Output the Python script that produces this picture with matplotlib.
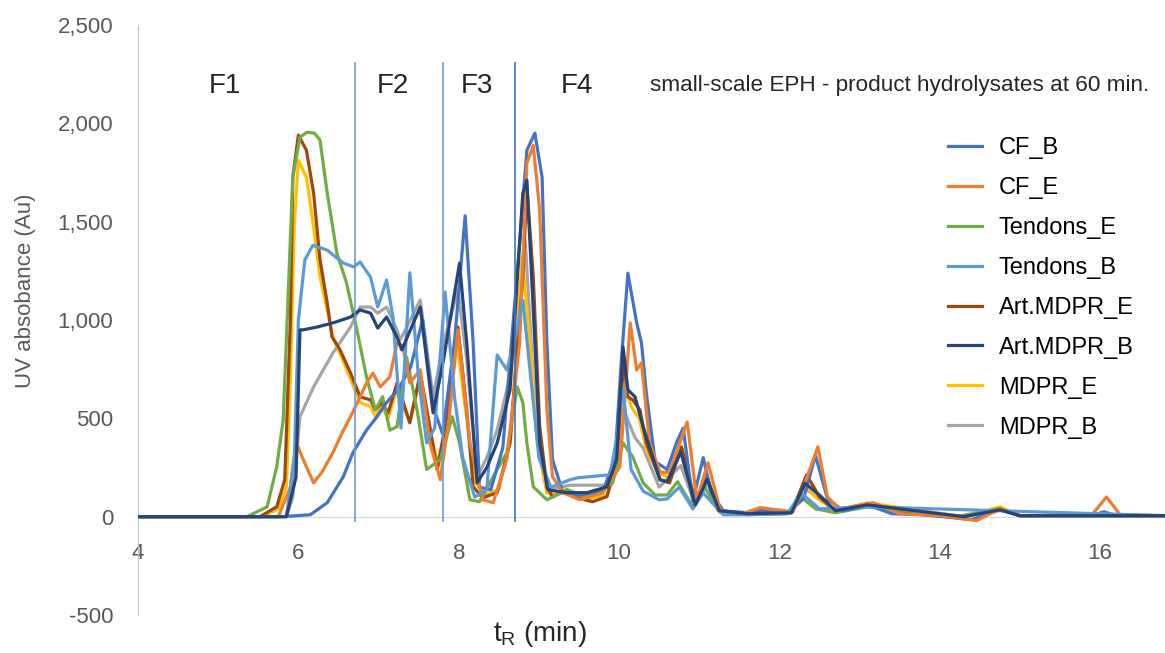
import numpy as np
import matplotlib
matplotlib.use("Agg")
import matplotlib.pyplot as plt
from matplotlib.ticker import FuncFormatter

plt.rcParams['font.family'] = ['Liberation Sans', 'DejaVu Sans']
plt.rcParams['mathtext.fontset'] = 'custom'
plt.rcParams['mathtext.rm'] = 'Liberation Sans'
plt.rcParams['mathtext.it'] = 'Liberation Sans'

# retention time (min) / UV absorbance (Au)
cf_b_t = [4, 5.8, 6.15, 6.36, 6.56, 6.68, 6.85, 6.98, 7.1, 7.25, 7.4, 7.55, 7.68, 7.8, 7.95, 8.08, 8.18, 8.26,
          8.4, 8.55, 8.76, 8.85, 8.95, 9.04, 9.1, 9.17, 9.3, 9.5, 9.8, 9.95, 10.03, 10.11, 10.22, 10.28, 10.34,
          10.45, 10.6, 10.72, 10.8, 10.92, 11.05, 11.15, 11.3, 11.6, 11.8, 12.1, 12.3, 12.45, 12.6, 12.8, 13.1,
          13.4, 13.8, 14.4, 14.75, 15.0, 15.9, 16.05, 16.2, 16.8]
cf_b_y = [0, 0, 10, 71, 203, 325, 440, 508, 580, 650, 760, 1000, 560, 420, 900, 1530, 883, 150,
          137, 350, 1390, 1863, 1950, 1726, 883, 290, 122, 110, 130, 300, 800, 1238, 985, 883, 630,
          280, 240, 380, 450, 80, 300, 120, 30, 20, 35, 20, 90, 310, 90, 30, 60,
          15, 10, -15, 35, 5, 5, 25, 5, 5]

cf_e_t = [4, 5.75, 5.9, 5.97, 6.05, 6.19, 6.3, 6.43, 6.55, 6.65, 6.77, 6.85, 6.93, 7.02, 7.14, 7.23, 7.3, 7.39,
          7.52, 7.64, 7.77, 7.88, 7.99, 8.14, 8.3, 8.43, 8.6, 8.76, 8.85, 8.93, 9.01, 9.1, 9.17, 9.3, 9.51, 9.8,
          10.01, 10.14, 10.22, 10.28, 10.38, 10.51, 10.63, 10.72, 10.85, 10.97, 11.11, 11.26, 11.5, 11.76,
          12.17, 12.3, 12.48, 12.6, 12.75, 13.17, 13.5, 14.0, 14.46, 14.75, 15.0, 15.9, 16.08, 16.25, 16.8]
cf_e_y = [0, 0, 150, 380, 300, 172, 230, 325, 430, 508, 610, 680, 730, 660, 710, 883, 870, 680,
          746, 375, 188, 500, 950, 375, 86, 71, 290, 883, 1797, 1888, 1558, 543, 203, 122, 86, 122,
          254, 985, 746, 782, 375, 228, 223, 330, 482, 86, 274, 35, 10, 46,
          25, 150, 355, 100, 40, 71, 15, 5, -20, 40, 5, 10, 100, 10, 5]

tend_e_t = [4, 5.36, 5.61, 5.73, 5.81, 5.86, 5.93, 6.02, 6.11, 6.2, 6.27, 6.36, 6.48, 6.6, 6.73, 6.85, 6.96,
            7.05, 7.14, 7.23, 7.35, 7.48, 7.6, 7.77, 7.92, 8.01, 8.14, 8.26, 8.48, 8.6, 8.73, 8.8, 8.85, 8.93,
            9.1, 9.35, 9.6, 9.92, 10.05, 10.17, 10.3, 10.45, 10.6, 10.73, 10.92, 11.07, 11.26, 11.6, 12.1,
            12.27, 12.45, 12.7, 13.1, 13.6, 14.2, 14.75, 15.0, 16.8]
tend_e_y = [0, 0, 50, 254, 490, 1000, 1725, 1930, 1955, 1950, 1915, 1645, 1340, 1190, 950, 710, 543,
            610, 440, 457, 812, 543, 240, 290, 508, 375, 86, 76, 240, 325, 660, 580, 375, 152,
            86, 137, 100, 172, 375, 305, 172, 110, 110, 178, 50, 147, 25, 10, 15,
            100, 40, 20, 50, 30, 0, 40, 5, 5]

tend_b_t = [4, 5.85, 5.95, 6.0, 6.08, 6.18, 6.36, 6.56, 6.69, 6.77, 6.9, 6.99, 7.1, 7.18, 7.28, 7.39, 7.5,
            7.6, 7.7, 7.83, 7.95, 8.05, 8.2, 8.35, 8.48, 8.6, 8.7, 8.8, 8.9, 9.0, 9.15, 9.39, 9.49, 9.89,
            9.97, 10.05, 10.15, 10.3, 10.5, 10.6, 10.75, 10.92, 11.05, 11.3, 11.6, 12.1, 12.27, 12.5, 13.1,
            14.75, 16.8]
tend_b_y = [0, 0, 300, 1000, 1305, 1380, 1355, 1290, 1270, 1295, 1218, 1066, 1203, 1015, 450, 1240, 700,
            375, 450, 1142, 600, 300, 100, 137, 822, 746, 900, 1100, 700, 300, 150, 188, 198, 213,
            400, 650, 240, 130, 86, 90, 150, 40, 120, 10, 10, 15, 120, 40, 50,
            30, 5]

art_e_t = [4, 5.52, 5.73, 5.83, 5.9, 5.93, 6.0, 6.1, 6.19, 6.27, 6.36, 6.42, 6.52, 6.65, 6.77, 6.9, 6.96,
           7.04, 7.12, 7.23, 7.39, 7.52, 7.64, 7.73, 7.85, 7.99, 8.1, 8.18, 8.3, 8.48, 8.64, 8.8, 8.85, 8.93,
           9.01, 9.1, 9.17, 9.35, 9.47, 9.67, 9.85, 9.97, 10.05, 10.11, 10.17, 10.26, 10.34, 10.51, 10.63,
           10.78, 10.95, 11.1, 11.23, 11.5, 11.8, 12.15, 12.34, 12.5, 12.7, 13.1, 13.6, 14.3, 14.75, 15.0, 16.8]
art_e_y = [0, 0, 50, 188, 1000, 1726, 1940, 1863, 1645, 1305, 1086, 914, 848, 731, 609, 594, 543,
           579, 528, 680, 477, 731, 457, 239, 500, 964, 543, 152, 96, 122, 375, 1218, 1675, 1218,
           457, 152, 100, 137, 96, 76, 102, 290, 761, 609, 594, 543, 375, 188, 172,
           355, 76, 203, 35, 15, 30, 20, 213, 100, 30, 65, 15, 0, 40, 5, 5]

art_b_t = [4, 5.85, 5.97, 6.02, 6.06, 6.23, 6.43, 6.65, 6.77, 6.9, 6.99, 7.1, 7.23, 7.29, 7.52, 7.68, 7.81,
           8.01, 8.1, 8.23, 8.35, 8.48, 8.64, 8.8, 8.85, 8.93, 9.01, 9.11, 9.35, 9.6, 9.85, 9.97, 10.05,
           10.11, 10.2, 10.3, 10.51, 10.6, 10.77, 10.95, 11.1, 11.25, 11.6, 12.15, 12.32, 12.5, 12.7, 13.1,
           14.3, 14.75, 15.0, 16.8]
art_b_y = [0, 0, 200, 950, 950, 964, 985, 1015, 1051, 1035, 959, 1015, 914, 848, 1066, 528, 797,
           1289, 883, 172, 250, 375, 645, 1645, 1711, 1051, 375, 137, 122, 122, 152, 290, 863,
           645, 609, 457, 188, 178, 330, 60, 190, 30, 15, 20, 170, 110, 30, 60,
           0, 35, 5, 5]

mdpr_e_t = [4, 5.55, 5.75, 5.85, 5.9, 5.95, 6.0, 6.1, 6.19, 6.27, 6.36, 6.43, 6.55, 6.65, 6.77, 6.9, 6.96,
            7.04, 7.12, 7.23, 7.39, 7.52, 7.64, 7.75, 7.85, 7.97, 8.1, 8.2, 8.32, 8.5, 8.65, 8.79, 8.89, 8.98,
            9.1, 9.35, 9.6, 9.85, 9.97, 10.05, 10.15, 10.25, 10.35, 10.5, 10.63, 10.77, 10.95, 11.1, 11.25,
            11.6, 12.15, 12.3, 12.45, 12.7, 13.1, 14.3, 14.75, 15.0, 16.8]
mdpr_e_y = [0, 0, 40, 150, 700, 1500, 1812, 1726, 1472, 1218, 1051, 914, 800, 700, 580, 560, 508,
            560, 500, 650, 480, 700, 430, 260, 450, 900, 500, 180, 110, 140, 400, 1320, 883, 375,
            120, 120, 90, 110, 250, 700, 560, 500, 330, 220, 200, 330, 70, 190, 30,
            15, 20, 170, 100, 30, 70, 0, 50, 5, 5]

mdpr_b_t = [4, 5.85, 5.93, 6.02, 6.19, 6.43, 6.65, 6.77, 6.9, 6.99, 7.1, 7.23, 7.27, 7.52, 7.68, 7.81, 7.99,
            8.1, 8.23, 8.35, 8.48, 8.64, 8.83, 8.93, 9.01, 9.1, 9.4, 9.9, 9.98, 10.05, 10.2, 10.3, 10.5,
            10.77, 10.95, 11.1, 11.25, 11.6, 12.15, 12.3, 12.5, 12.7, 13.1, 14.3, 14.75, 15.0, 16.8]
mdpr_b_y = [0, 0, 100, 508, 660, 832, 964, 1066, 1066, 1035, 1066, 950, 898, 1102, 609, 883, 1152,
            797, 203, 300, 442, 711, 1400, 700, 300, 140, 160, 160, 300, 550, 400, 350, 150,
            260, 60, 170, 25, 15, 20, 150, 90, 30, 60, 0, 35, 5, 5]

labels = ['CF_B', 'CF_E', 'Tendons_E', 'Tendons_B', 'Art.MDPR_E', 'Art.MDPR_B', 'MDPR_E', 'MDPR_B']
colors = ['#4472C4', '#ED7D31', '#70AD47', '#5B9BD5', '#9E480E', '#264478', '#FFC000', '#A5A5A5']
order = [4, 5, 3, 6, 2, 7, 1, 0]  # drawing order (higher on top)

fractions = ['F1', 'F2', 'F3', 'F4']
fraction_x = [5.08, 7.18, 8.23, 9.47]
cuts = [6.7, 7.81, 8.7]

series_t = [cf_b_t, cf_e_t, tend_e_t, tend_b_t, art_e_t, art_b_t, mdpr_e_t, mdpr_b_t]
series_y = [cf_b_y, cf_e_y, tend_e_y, tend_b_y, art_e_y, art_b_y, mdpr_e_y, mdpr_b_y]

fig = plt.figure(figsize=(11.65, 6.53), dpi=100)
ax = fig.add_axes([0.1185, 0.0582, 0.8815, 0.9035])

for t, y, lab, col, z in zip(series_t, series_y, labels, colors, order):
    ax.plot(t, y, color=col, lw=2.3, label=lab, zorder=3 + z, solid_joinstyle='round')

ax.vlines(cuts, -25, 2310, colors=['#6f9be0', '#6f9be0', '#4472C4'], lw=1.2, zorder=12)

for f, x in zip(fractions, fraction_x):
    ax.text(x, 2190, f, fontsize=20, ha='center', va='center', color='#262626')
ax.text(10.38, 2190, 'small-scale EPH - product hydrolysates at 60 min.', fontsize=16.2,
        ha='left', va='center', color='#262626')

ax.set_xlim(4, 16.81)
ax.set_ylim(-500, 2500)
ax.set_xticks([4, 6, 8, 10, 12, 14, 16])
ax.set_yticks(np.arange(-500, 2501, 500))
ax.yaxis.set_major_formatter(FuncFormatter(lambda v, p: f'{int(v):,}'))

ax.spines['top'].set_visible(False)
ax.spines['right'].set_visible(False)
ax.spines['bottom'].set_position(('data', 0))
ax.spines['bottom'].set_color('#D9D9D9')
ax.spines['left'].set_color('#BFBFBF')
ax.spines['bottom'].set_zorder(1)
ax.tick_params(axis='x', length=0, pad=19, labelsize=16, labelcolor='#595959')
ax.tick_params(axis='y', length=0, pad=18, labelsize=16, labelcolor='#595959')

ax.set_ylabel('UV absobance (Au)', fontsize=16, color='#595959')
ax.yaxis.set_label_coords(-0.099, 0.549)
ax.set_xlabel(r't$_{\mathrm{R}}$ (min)', fontsize=20, color='#262626')
ax.xaxis.set_label_coords(0.391, -0.006)

ax.legend(loc='upper left', bbox_to_anchor=(948 / 1165, 1 - 137 / 653), bbox_transform=fig.transFigure,
          frameon=False, fontsize=17, handlelength=1.45, handletextpad=0.7, labelspacing=0.76,
          borderpad=0, borderaxespad=0)

fig.savefig('out.png', dpi=100)
